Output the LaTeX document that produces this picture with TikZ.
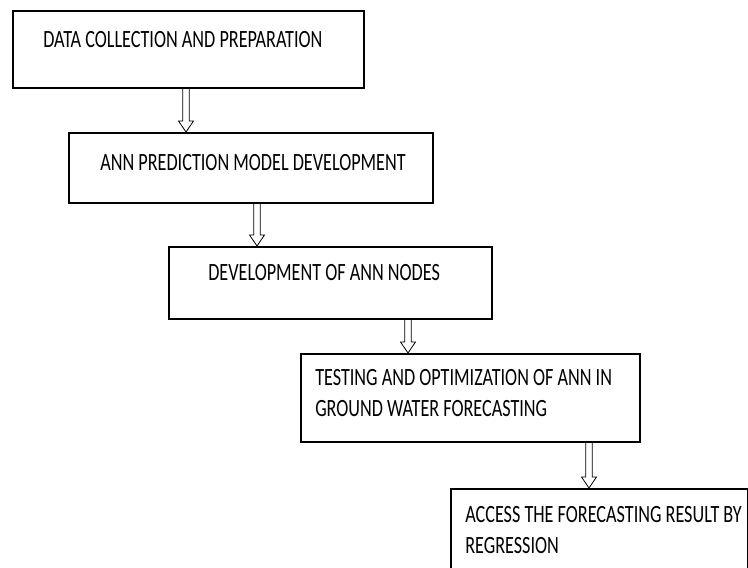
\documentclass[tikz,border=0pt]{standalone}
\usepackage{graphicx}
\usepackage{fontspec}
\setmainfont{Carlito}
\usetikzlibrary{calc}

\newcommand{\tallbox}[1]{\scalebox{1.01}[1.38]{#1}}

\tikzset{
    stage/.style={draw, line width=1.2pt, anchor=north west, inner sep=0pt},
    stagetext/.style={anchor=west, inner sep=0pt, align=left, text=black,
        font=\fontsize{13.5}{16.4}\selectfont},
    hollow/.style={line width=0.6pt, to path={let \p1=(\tikztostart), \p2=(\tikztotarget) in
        (\x1-2.4pt,\y1) -- (\x1-2.4pt,\y2+8.25pt) -- (\x1-5.6pt,\y2+8.25pt) -- (\x2,\y2)
        -- (\x1+5.6pt,\y2+8.25pt) -- (\x1+2.4pt,\y2+8.25pt) -- (\x1+2.4pt,\y1)}}
}

\begin{document}
\begin{tikzpicture}[x=0.75pt, y=-0.75pt]
        \useasboundingbox (0,0) rectangle (748,567);
        \clip (0,0) rectangle (748,567);

        \node[stage, minimum width=263.25pt, minimum height=57.75pt] (collect) at (12,10) {};
        \node[stage, minimum width=273pt, minimum height=52.5pt] (model) at (68,132) {};
        \node[stage, minimum width=242.25pt, minimum height=54pt] (annnodes) at (168,246) {};
        \node[stage, minimum width=254.25pt, minimum height=66pt] (testing) at (300,353) {};
        \node[stage, minimum width=222.75pt, minimum height=84pt] (regress) at (450,488) {};

        \node[stagetext] (collect-txt) at ($(collect.north west)+(31,30)$)
            {\tallbox{DATA COLLECTION AND PREPARATION}};
        \node[stagetext] (model-txt) at ($(model.north west)+(32,31)$)
            {\tallbox{ANN PREDICTION MODEL DEVELOPMENT}};
        \node[stagetext] (annnodes-txt) at ($(annnodes.north west)+(40,27)$)
            {\tallbox{DEVELOPMENT OF ANN NODES}};
        \node[stagetext] (testing-txt) at ($(testing.north west)+(15,42)$)
            {\tallbox{\begin{tabular}{@{}l@{}}TESTING AND OPTIMIZATION OF ANN IN\\GROUND WATER FORECASTING\end{tabular}}};
        \node[stagetext] (regress-txt) at ($(regress.north west)+(15,44)$)
            {\tallbox{\begin{tabular}{@{}l@{}}ACCESS THE FORECASTING RESULT BY\\REGRESSION\end{tabular}}};

        \coordinate (a1) at (186,0);
        \coordinate (a2) at (257,0);
        \coordinate (a3) at (408,0);
        \coordinate (a4) at (589,0);

        \draw[hollow] (a1 |- collect.south) to (a1 |- model.north);
        \draw[hollow] (a2 |- model.south) to (a2 |- annnodes.north);
        \draw[hollow] (a3 |- annnodes.south) to (a3 |- testing.north);
        \draw[hollow] (a4 |- testing.south) to (a4 |- regress.north);
    \end{tikzpicture}
\end{document}
